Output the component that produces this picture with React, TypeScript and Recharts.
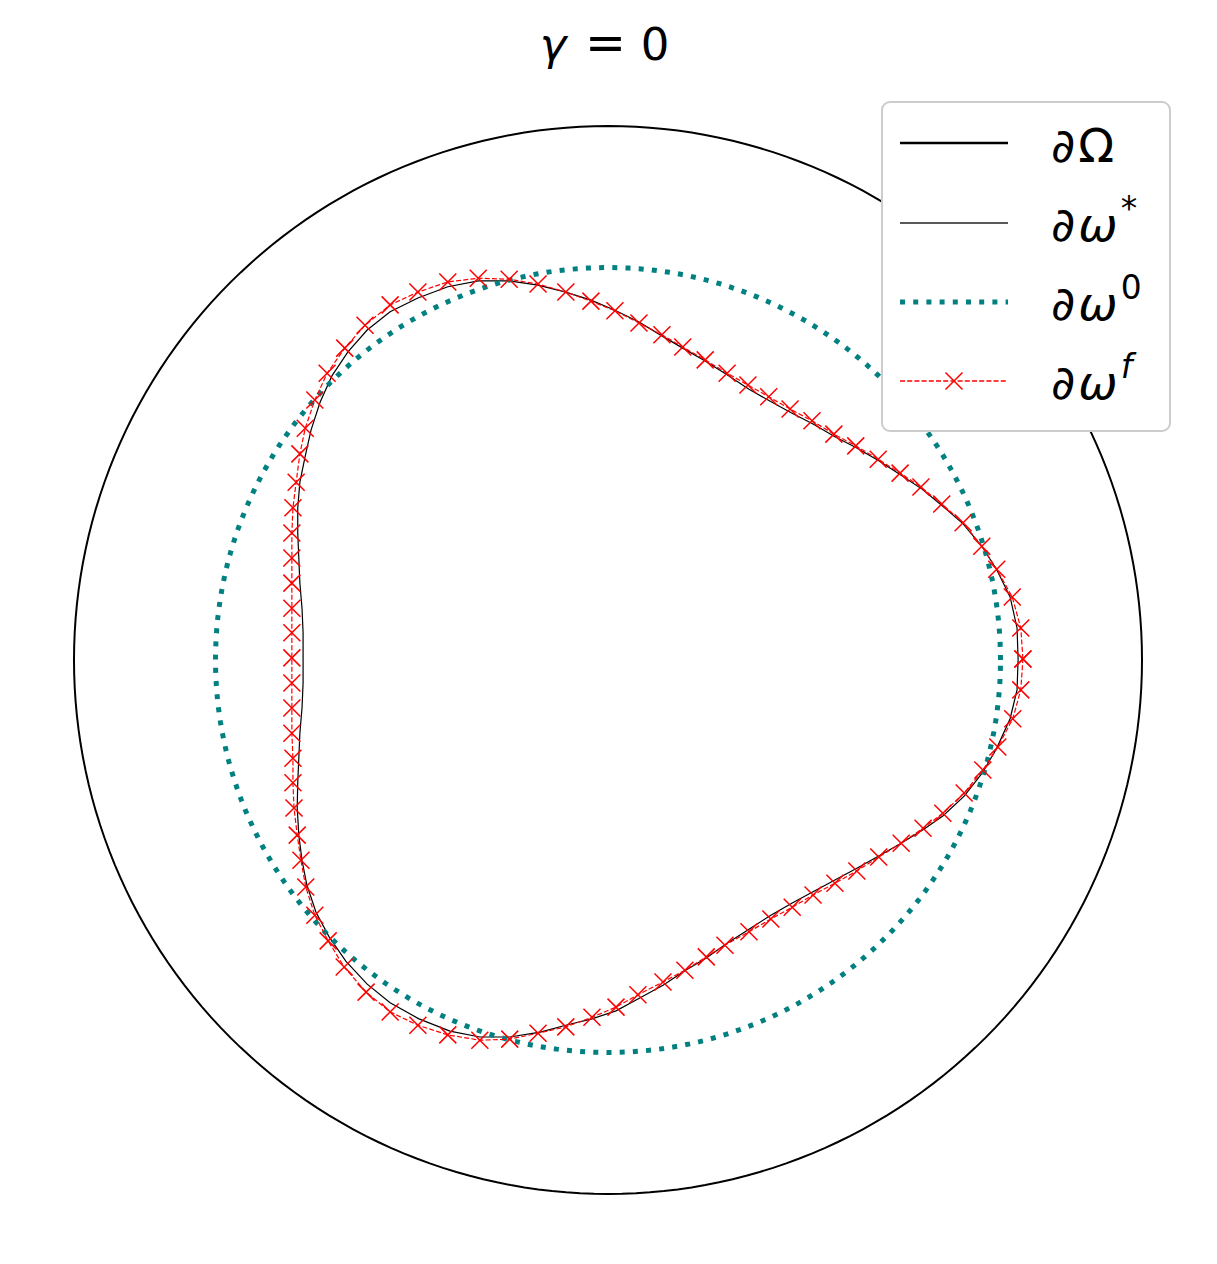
import React from 'react';
import { ScatterChart, Scatter, XAxis, YAxis } from 'recharts';

// boundary of the final shape (red, with markers) in unit-disc coordinates
const omegaFinal: [number, number][] = [
    [0.777, 0.002], [0.773, 0.06], [0.757, 0.118], [0.728, 0.17], [0.7, 0.213], [0.665, 0.257],
    [0.625, 0.292], [0.586, 0.324], [0.547, 0.35], [0.506, 0.376], [0.464, 0.401], [0.423, 0.423],
    [0.382, 0.448], [0.341, 0.47], [0.301, 0.493], [0.262, 0.515], [0.223, 0.537], [0.182, 0.562],
    [0.14, 0.586], [0.101, 0.609], [0.058, 0.631], [0.013, 0.654], [-0.032, 0.672], [-0.079, 0.689],
    [-0.131, 0.704], [-0.185, 0.713], [-0.243, 0.715], [-0.3, 0.708], [-0.356, 0.689], [-0.408, 0.665],
    [-0.455, 0.627], [-0.493, 0.584], [-0.526, 0.537], [-0.549, 0.487], [-0.567, 0.434], [-0.577, 0.386],
    [-0.584, 0.333], [-0.59, 0.285], [-0.592, 0.238], [-0.592, 0.191], [-0.592, 0.144], [-0.592, 0.097],
    [-0.592, 0.051], [-0.592, 0.004], [-0.592, -0.043], [-0.592, -0.09], [-0.592, -0.137], [-0.59, -0.184],
    [-0.59, -0.23], [-0.588, -0.277], [-0.582, -0.328], [-0.575, -0.375], [-0.566, -0.425], [-0.549, -0.478],
    [-0.524, -0.526], [-0.494, -0.575], [-0.453, -0.622], [-0.408, -0.659], [-0.356, -0.684], [-0.3, -0.702],
    [-0.24, -0.712], [-0.184, -0.71], [-0.131, -0.699], [-0.079, -0.687], [-0.03, -0.669], [0.015, -0.65],
    [0.056, -0.627], [0.103, -0.603], [0.144, -0.581], [0.184, -0.556], [0.219, -0.534], [0.264, -0.509],
    [0.305, -0.485], [0.345, -0.463], [0.384, -0.44], [0.425, -0.418], [0.466, -0.395], [0.507, -0.369],
    [0.549, -0.343], [0.59, -0.315], [0.627, -0.287], [0.667, -0.249], [0.702, -0.206], [0.73, -0.163],
    [0.758, -0.11], [0.773, -0.056],
];

// target shape (thin black)
const omegaStar: [number, number][] = [
    [0.768, 0.002], [0.766, 0.06], [0.753, 0.118], [0.728, 0.169], [0.7, 0.213], [0.665, 0.255],
    [0.627, 0.288], [0.588, 0.32], [0.549, 0.346], [0.507, 0.373], [0.466, 0.397], [0.425, 0.418],
    [0.384, 0.442], [0.343, 0.463], [0.303, 0.485], [0.264, 0.507], [0.223, 0.534], [0.182, 0.56],
    [0.14, 0.584], [0.101, 0.607], [0.058, 0.633], [0.013, 0.655], [-0.032, 0.674], [-0.079, 0.689],
    [-0.131, 0.702], [-0.185, 0.71], [-0.243, 0.71], [-0.3, 0.699], [-0.356, 0.678], [-0.408, 0.652],
    [-0.451, 0.618], [-0.487, 0.577], [-0.517, 0.532], [-0.539, 0.483], [-0.556, 0.431], [-0.567, 0.382],
    [-0.577, 0.333], [-0.581, 0.285], [-0.581, 0.238], [-0.579, 0.191], [-0.577, 0.144], [-0.573, 0.097],
    [-0.571, 0.051], [-0.571, 0.004], [-0.571, -0.043], [-0.573, -0.09], [-0.577, -0.137], [-0.579, -0.184],
    [-0.581, -0.23], [-0.582, -0.277], [-0.579, -0.328], [-0.573, -0.375], [-0.564, -0.421], [-0.547, -0.472],
    [-0.522, -0.519], [-0.491, -0.564], [-0.451, -0.607], [-0.408, -0.642], [-0.354, -0.672], [-0.296, -0.695],
    [-0.24, -0.706], [-0.184, -0.706], [-0.127, -0.697], [-0.079, -0.684], [-0.03, -0.672], [0.015, -0.657],
    [0.056, -0.635], [0.103, -0.609], [0.144, -0.582], [0.184, -0.558], [0.221, -0.532], [0.264, -0.504],
    [0.305, -0.478], [0.345, -0.455], [0.384, -0.434], [0.425, -0.412], [0.466, -0.39], [0.507, -0.367],
    [0.549, -0.343], [0.59, -0.318], [0.627, -0.292], [0.667, -0.255], [0.702, -0.21], [0.728, -0.165],
    [0.753, -0.11], [0.766, -0.056],
];

// radii of the two circles
const outerRadius = 1.0;
const initialRadius = 0.735;

const closed = (pts: [number, number][]) => [...pts, pts[0]].map(([x, y]) => ({ x, y }));

const circle = (r: number, n = 240) =>
    Array.from({ length: n + 1 }, (_, i) => {
        const t = (2 * Math.PI * i) / n;
        return { x: r * Math.cos(t), y: r * Math.sin(t) };
    });

const Nothing = () => <g />;

const Cross = (props: any) => {
    const { cx, cy } = props;
    if (cx == null || cy == null) return <g />;
    const s = 8.5;
    return (
        <path
            d={`M${cx - s},${cy - s}L${cx + s},${cy + s}M${cx - s},${cy + s}L${cx + s},${cy - s}`}
            stroke="#ff0000"
            strokeWidth={1.5}
            fill="none"
        />
    );
};

const FONT = '"DejaVu Sans", sans-serif';

function LegendBox() {
    const rows = [42, 122, 201, 280];
    const lx1 = 19;
    const lx2 = 127;
    const tx = 170;
    const fs = 47;
    return (
        <svg width={290} height={331} style={{ display: 'block' }}>
            <rect x={1} y={1} width={288} height={329} rx={8} ry={8} fill="#ffffff" stroke="#cccccc" strokeWidth={2} />
            <line x1={lx1} x2={lx2} y1={rows[0]} y2={rows[0]} stroke="#000" strokeWidth={2.5} />
            <line x1={lx1} x2={lx2} y1={rows[1]} y2={rows[1]} stroke="#222" strokeWidth={1.3} />
            <line x1={lx1} x2={lx2} y1={rows[2]} y2={rows[2]} stroke="#008080" strokeWidth={5} strokeDasharray="5 8.2" />
            <line x1={lx1} x2={lx2} y1={rows[3]} y2={rows[3]} stroke="#ff0000" strokeWidth={1.3} strokeDasharray="5 2.2" />
            <Cross cx={(lx1 + lx2) / 2} cy={rows[3]} />
            <g fontFamily={FONT} fontSize={fs} fill="#000">
                <text x={tx} y={rows[0] + 19}>
                    ∂<tspan dx={3}>Ω</tspan>
                </text>
                <text x={tx} y={rows[1] + 18}>
                    ∂<tspan dx={3} fontStyle="italic">ω</tspan>
                    <tspan fontSize={fs * 0.7} dx={3} dy={-21}>*</tspan>
                </text>
                <text x={tx} y={rows[2] + 18}>
                    ∂<tspan dx={3} fontStyle="italic">ω</tspan>
                    <tspan fontSize={fs * 0.7} dx={3} dy={-21}>0</tspan>
                </text>
                <text x={tx} y={rows[3] + 18}>
                    ∂<tspan dx={3} fontStyle="italic">ω</tspan>
                    <tspan fontSize={fs * 0.7} dx={3} fontStyle="italic" dy={-21}>f</tspan>
                </text>
            </g>
        </svg>
    );
}

function Title() {
    return (
        <svg width={1217} height={80} style={{ display: 'block' }}>
            <g fontFamily={FONT} fill="#000" textAnchor="middle">
                <text x={553} y={60} fontSize={45} fontStyle="italic">γ</text>
                <text x={605.5} y={60} fontSize={49}>=</text>
                <text x={655} y={60} fontSize={45}>0</text>
            </g>
        </svg>
    );
}

export default function App() {
    return (
        <div style={{ position: 'absolute', left: 0, top: 0, width: 1217, height: 1264, background: '#fff' }}>
            <div style={{ position: 'absolute', left: 0, top: 0 }}>
                <ScatterChart width={1217} height={1264} margin={{ top: 72.6, right: 21.6, bottom: 16.6, left: 20.6 }}>
                    <XAxis type="number" dataKey="x" domain={[-1.1, 1.1]} allowDataOverflow hide />
                    <YAxis type="number" dataKey="y" domain={[-1.1, 1.1]} allowDataOverflow hide />
                    <Scatter
                        name="∂Ω"
                        data={circle(outerRadius)}
                        fill="#000000"
                        line={{ stroke: '#000000', strokeWidth: 2 }}
                        shape={Nothing}
                        isAnimationActive={false}
                    />
                    <Scatter
                        name="∂ω*"
                        data={closed(omegaStar)}
                        fill="#000000"
                        line={{ stroke: '#000000', strokeWidth: 1.2 }}
                        shape={Nothing}
                        isAnimationActive={false}
                    />
                    <Scatter
                        name="∂ω0"
                        data={circle(initialRadius)}
                        fill="#008080"
                        line={{ stroke: '#008080', strokeWidth: 5, strokeDasharray: '5 8.2' }}
                        shape={Nothing}
                        isAnimationActive={false}
                    />
                    <Scatter
                        name="∂ωf"
                        data={closed(omegaFinal)}
                        fill="#ff0000"
                        line={{ stroke: '#ff0000', strokeWidth: 1.2, strokeDasharray: '5 2.2' }}
                        shape={Cross}
                        isAnimationActive={false}
                    />
                </ScatterChart>
            </div>
            <div style={{ position: 'absolute', left: 0, top: 0, zIndex: 5 }}>
                <Title />
            </div>
            <div style={{ position: 'absolute', left: 881, top: 101, zIndex: 10 }}>
                <LegendBox />
            </div>
        </div>
    );
}
